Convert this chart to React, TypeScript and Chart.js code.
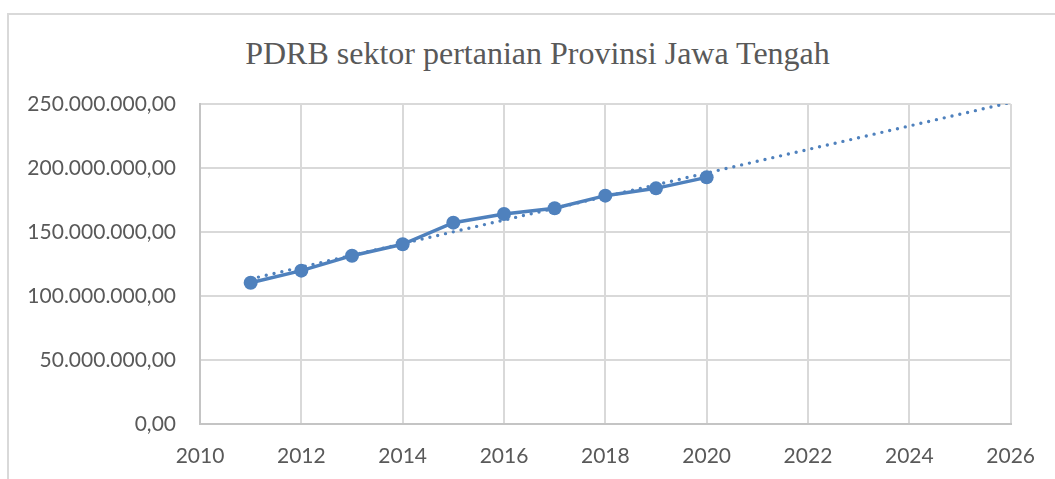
import React, { useEffect, useRef } from "react";
import { Chart, registerables } from "chart.js";

Chart.register(...registerables);

const chartTitle = "PDRB sektor pertanian Provinsi Jawa Tengah";
const years = [2011, 2012, 2013, 2014, 2015, 2016, 2017, 2018, 2019, 2020];
const pdrbValues = [
  110.4e6, 119.8e6, 131.5e6, 140.4e6, 157.3e6, 164.1e6, 168.5e6, 178.4e6, 184.1e6, 192.7e6,
];
const xMin = 2010;
const xMax = 2026;
const xStep = 2;
const yMin = 0;
const yMax = 250e6;
const yStep = 50e6;
const trendForecastEnd = 2026;

const BLUE = "#4F81BD";
const GRID = "#D9D9D9";
const AXIS = "#C4C4C4";
const TEXT = "#595959";

function formatId(v: number): string {
  const fixed = Math.abs(v).toFixed(2);
  const [intPart, dec] = fixed.split(".");
  const withDots = intPart.replace(/\B(?=(\d{3})+(?!\d))/g, ".");
  return (v < 0 ? "-" : "") + withDots + "," + dec;
}

function linearTrend(xs: number[], ys: number[]) {
  const n = xs.length;
  const mx = xs.reduce((a, b) => a + b, 0) / n;
  const my = ys.reduce((a, b) => a + b, 0) / n;
  let sxy = 0;
  let sxx = 0;
  for (let i = 0; i < n; i++) {
    sxy += (xs[i] - mx) * (ys[i] - my);
    sxx += (xs[i] - mx) * (xs[i] - mx);
  }
  const slope = sxy / sxx;
  const intercept = my - slope * mx;
  return (x: number) => intercept + slope * x;
}

export default function App() {
  const canvasRef = useRef<HTMLCanvasElement | null>(null);

  useEffect(() => {
    if (!canvasRef.current) return;
    const trend = linearTrend(years, pdrbValues);
    const trendPoints = [
      { x: years[0], y: trend(years[0]) },
      { x: trendForecastEnd, y: trend(trendForecastEnd) },
    ];
    const mainPoints = years.map((x, i) => ({ x, y: pdrbValues[i] }));

    const chart = new Chart(canvasRef.current, {
      type: "scatter",
      data: {
        datasets: [
          {
            label: "PDRB",
            data: mainPoints,
            showLine: true,
            borderColor: BLUE,
            backgroundColor: BLUE,
            borderWidth: 3.5,
            pointRadius: 7,
            pointHoverRadius: 7,
            pointBorderWidth: 0,
            pointBackgroundColor: BLUE,
            order: 0,
          },
          {
            label: "Trend",
            data: trendPoints,
            showLine: true,
            borderColor: BLUE,
            borderWidth: 3.4,
            borderDash: [0, 8],
            borderCapStyle: "round",
            pointRadius: 0,
            order: 1,
          } as any,
        ],
      },
      options: {
        animation: false,
        responsive: false,
        maintainAspectRatio: false,
        layout: { padding: { top: 104, right: 42, bottom: 0, left: 0 } },
        plugins: {
          legend: { display: false },
          title: { display: false },
          tooltip: { enabled: false },
        },
        scales: {
          x: {
            type: "linear",
            min: xMin,
            max: xMax,
            afterFit: (scale: any) => {
              scale.height = 55;
            },
            ticks: {
              stepSize: xStep,
              padding: 20,
              color: TEXT,
              font: { family: "Lato", size: 21 },
              callback: (v: any) => String(v),
            },
            grid: { color: GRID, lineWidth: 2, drawTicks: false },
            border: { display: true, color: AXIS, width: 2 },
          },
          y: {
            type: "linear",
            min: yMin,
            max: yMax,
            afterFit: (scale: any) => {
              scale.width = 200;
            },
            ticks: {
              stepSize: yStep,
              padding: 24,
              color: TEXT,
              font: { family: "Lato", size: 21 },
              callback: (v: any) => formatId(Number(v)),
            },
            grid: { color: GRID, lineWidth: 2, drawTicks: false },
            border: { display: true, color: AXIS, width: 2 },
          },
        },
      },
    });
    return () => chart.destroy();
  }, []);

  return (
    <div
      style={{
        position: "fixed",
        left: 0,
        top: 0,
        width: 1055,
        height: 479,
        overflow: "hidden",
        background: "#ffffff",
      }}
    >
      <div
        style={{
          position: "absolute",
          left: 7,
          top: 13,
          width: 1200,
          height: 600,
          borderLeft: "2px solid #D9D9D9",
          borderTop: "2px solid #D9D9D9",
          boxSizing: "border-box",
        }}
      />
      <div
        style={{
          position: "absolute",
          left: 0,
          top: 37,
          width: 1075,
          textAlign: "center",
          fontFamily: "'Liberation Serif', 'Times New Roman', serif",
          fontSize: 32,
          lineHeight: "32px",
          color: TEXT,
          whiteSpace: "nowrap",
        }}
      >
        {chartTitle}
      </div>
      <canvas
        ref={canvasRef}
        width={1055}
        height={479}
        style={{ position: "absolute", left: 0, top: 0, width: 1055, height: 479 }}
      />
    </div>
  );
}
